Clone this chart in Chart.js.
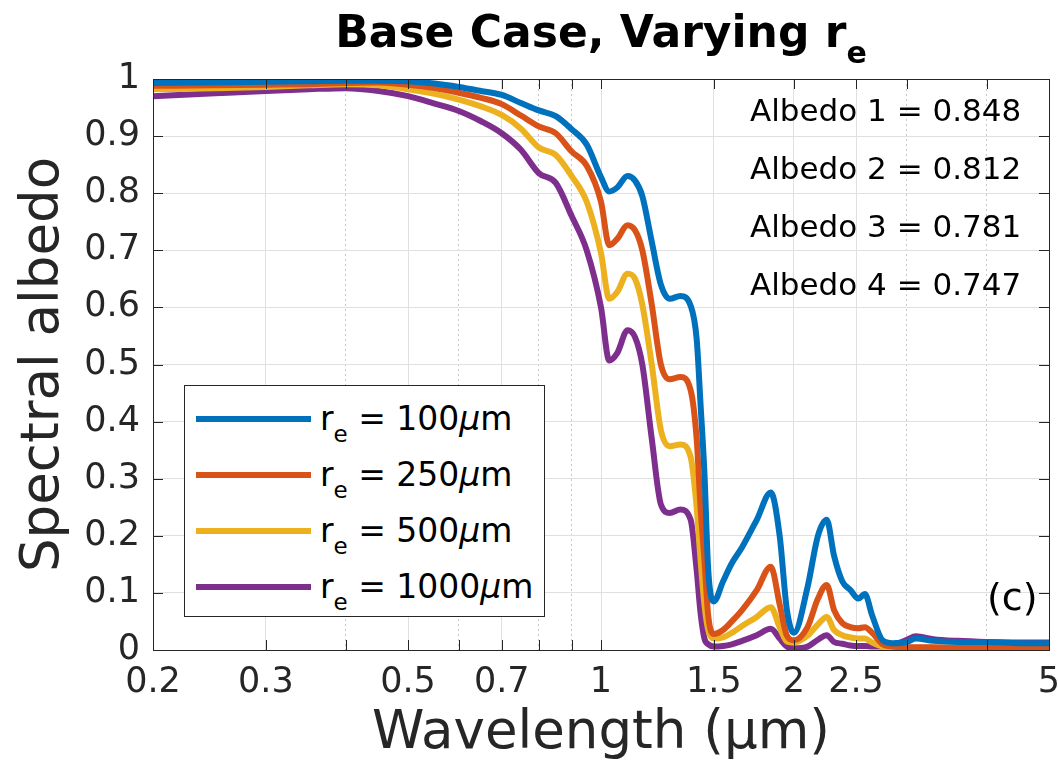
<!DOCTYPE html>
<html>
<head>
<meta charset="utf-8">
<script src="https://cdn.jsdelivr.net/npm/chart.js@4.4.1/dist/chart.umd.min.js"></script>
<style>
  html, body { margin: 0; padding: 0; background: #fff; }
  #wrap { position: relative; width: 1058px; height: 766px; font-family: 'DejaVu Sans', sans-serif; color: #262626; }
  #chart { position: absolute; left: 0; top: 0; }
  #title { position: absolute; left: 601px; top: 10px; transform: translateX(-50%); font-weight: bold; font-size: 44px; line-height: 1; color: #000; white-space: nowrap; }
  #title sub { font-size: 30px; position: relative; top: 16px; vertical-align: baseline; }
  #legend { position: absolute; left: 184px; top: 385px; width: 361px; height: 232px; background: #fff; border: 1px solid #262626; box-sizing: border-box; }
  .leg-row { position: absolute; left: 0; height: 40px; }
  .leg-line { position: absolute; left: 11px; width: 115px; height: 6px; top: 17px; }
  .leg-text { position: absolute; left: 135px; top: 0; font-size: 33px; line-height: 40px; white-space: nowrap; color: #000; }
  .leg-text sub { font-size: 23px; position: relative; top: 12px; vertical-align: baseline; }
  .albedo { position: absolute; left: 750px; font-size: 31px; line-height: 34px; white-space: nowrap; color: #000; }
  #panel { position: absolute; left: 987px; top: 577px; font-size: 38px; line-height: 40px; color: #000; }
</style>
</head>
<body>
<div id="wrap">
  <canvas id="chart" width="1058" height="766"></canvas>
  <div id="title">Base Case, Varying r<sub>e</sub></div>
  <div id="legend"></div>
  <div id="albedos"></div>
  <div id="panel">(c)</div>
</div>
<script>
'use strict';

// ─── Datos ───────────────────────────────────────────────────────────────────
const wavelength = [
  0.2, 0.25, 0.3, 0.35, 0.4, 0.45, 0.5, 0.55, 0.6, 0.65, 0.7, 0.75, 0.8, 0.85, 0.9, 0.95,
  1.0, 1.03, 1.06, 1.1, 1.13, 1.16, 1.2, 1.24, 1.28, 1.33, 1.38, 1.41, 1.43, 1.45, 1.47,
  1.5, 1.55, 1.6, 1.66, 1.75, 1.84, 1.9, 1.95, 2.0, 2.1, 2.18, 2.25, 2.31, 2.38, 2.45,
  2.52, 2.58, 2.65, 2.75, 2.85, 3.0, 3.1, 3.3, 3.6, 4.0, 4.5, 5.0,
];

const albedoR100 = [
  0.993, 0.994, 0.995, 0.996, 0.997, 0.997, 0.996, 0.992, 0.986, 0.979, 0.972, 0.958, 0.945, 0.935, 0.912, 0.885,
  0.828, 0.803, 0.81, 0.83, 0.822, 0.795, 0.715, 0.64, 0.615, 0.62, 0.603, 0.545, 0.43, 0.31, 0.14,
  0.085, 0.12, 0.152, 0.18, 0.228, 0.276, 0.2, 0.07, 0.03, 0.11, 0.2, 0.228, 0.165, 0.12, 0.105,
  0.09, 0.098, 0.06, 0.017, 0.012, 0.014, 0.02, 0.016, 0.014, 0.014, 0.012, 0.012,
];

const albedoR250 = [
  0.988, 0.989, 0.99, 0.991, 0.993, 0.994, 0.99, 0.984, 0.976, 0.967, 0.956, 0.936, 0.917, 0.905, 0.873, 0.848,
  0.785, 0.709, 0.72, 0.744, 0.735, 0.7, 0.605, 0.5, 0.474, 0.478, 0.455, 0.37, 0.25, 0.158, 0.06,
  0.028, 0.035, 0.05, 0.07, 0.105, 0.146, 0.08, 0.025, 0.017, 0.04, 0.09, 0.114, 0.07, 0.047, 0.04,
  0.038, 0.04, 0.03, 0.01, 0.006, 0.005, 0.005, 0.005, 0.004, 0.004, 0.004, 0.004,
];

const albedoR500 = [
  0.982, 0.984, 0.986, 0.989, 0.991, 0.989, 0.982, 0.974, 0.964, 0.952, 0.937, 0.913, 0.88, 0.867, 0.83, 0.785,
  0.695, 0.615, 0.627, 0.659, 0.65, 0.605, 0.5, 0.385, 0.357, 0.36, 0.338, 0.25, 0.158, 0.08, 0.035,
  0.02, 0.022, 0.03, 0.042, 0.058, 0.075, 0.04, 0.015, 0.013, 0.025, 0.045, 0.058, 0.035, 0.026, 0.022,
  0.02, 0.02, 0.013, 0.006, 0.004, 0.004, 0.004, 0.004, 0.004, 0.004, 0.004, 0.004,
];

const albedoR1000 = [
  0.97, 0.975, 0.979, 0.982, 0.984, 0.979, 0.97, 0.957, 0.944, 0.926, 0.905, 0.876, 0.835, 0.818, 0.76, 0.7,
  0.6, 0.507, 0.52, 0.56, 0.548, 0.5, 0.37, 0.255, 0.24, 0.246, 0.228, 0.14, 0.065, 0.02, 0.01,
  0.006, 0.007, 0.01, 0.016, 0.026, 0.037, 0.02, 0.006, 0.003, 0.006, 0.018, 0.026, 0.014, 0.011, 0.008,
  0.007, 0.007, 0.006, 0.006, 0.008, 0.018, 0.024, 0.019, 0.016, 0.014, 0.013, 0.013,
];

const radiusLabels = ['100', '250', '500', '1000'];
const seriesColors = ['#0072BD', '#D95319', '#EDB120', '#7E2F8E'];
const broadbandAlbedo = ['0.848', '0.812', '0.781', '0.747'];

const xTickValues = [0.2, 0.3, 0.4, 0.5, 0.6, 0.7, 0.8, 0.9, 1, 1.5, 2, 2.5, 3, 4, 5];
const xTickLabels = ['0.2', '0.3', '', '0.5', '', '0.7', '', '', '1', '1.5', '2', '2.5', '', '', '5'];
const xMinorTicks = [0.4, 0.6, 0.8, 0.9, 3, 4];

const TEXT = '#262626';
const FONT = "'DejaVu Sans', sans-serif";

// ─── Caja y ticks hacia dentro (estilo MATLAB) ────────────────────────────────
const boxPlugin = {
  id: 'boxTicks',
  afterDraw(chart) {
    const { ctx, chartArea: a, scales } = chart;
    const len = 10;
    ctx.save();
    ctx.strokeStyle = TEXT;
    ctx.lineWidth = 1;
    ctx.beginPath();
    scales.x.ticks.forEach(t => {
      const px = Math.round(scales.x.getPixelForValue(t.value)) + 0.5;
      ctx.moveTo(px, a.bottom); ctx.lineTo(px, a.bottom - len);
      ctx.moveTo(px, a.top); ctx.lineTo(px, a.top + len);
    });
    scales.y.ticks.forEach(t => {
      const py = Math.round(scales.y.getPixelForValue(t.value)) + 0.5;
      ctx.moveTo(a.left, py); ctx.lineTo(a.left + len, py);
      ctx.moveTo(a.right, py); ctx.lineTo(a.right - len, py);
    });
    ctx.stroke();
    ctx.strokeRect(Math.round(a.left) + 0.5, Math.round(a.top) + 0.5,
      Math.round(a.right - a.left), Math.round(a.bottom - a.top));
    ctx.restore();
  },
};

const datasets = [albedoR100, albedoR250, albedoR500, albedoR1000].map((serie, i) => ({
  label: `r_e = ${radiusLabels[i]}μm`,
  data: wavelength.map((w, j) => ({ x: w, y: serie[j] })),
  borderColor: seriesColors[i],
  borderWidth: 6,
  pointRadius: 0,
  cubicInterpolationMode: 'monotone',
  fill: false,
}));

new Chart(document.getElementById('chart'), {
  type: 'line',
  data: { datasets },
  options: {
    responsive: false,
    animation: false,
    layout: { padding: { top: 79, right: 9, left: 0, bottom: 0 } },
    plugins: { legend: { display: false }, tooltip: { enabled: false }, title: { display: false } },
    scales: {
      x: {
        type: 'logarithmic',
        min: 0.2,
        max: 5,
        afterBuildTicks: s => { s.ticks = xTickValues.map(v => ({ value: v })); },
        afterFit: s => { s.height = 116; s.paddingLeft = 0; s.paddingRight = 0; },
        ticks: {
          autoSkip: false,
          maxRotation: 0,
          padding: 12,
          color: TEXT,
          font: { family: FONT, size: 35 },
          callback: (v, i) => xTickLabels[i],
        },
        grid: {
          drawTicks: false,
          color: ctx => xMinorTicks.includes(ctx.tick && ctx.tick.value) ? '#c8c8c8' : '#e0e0e0',
        },
        border: {
          display: false,
          dash: ctx => xMinorTicks.includes(ctx.tick && ctx.tick.value) ? [2, 3] : [],
        },
        title: {
          display: true,
          text: 'Wavelength (μm)',
          color: TEXT,
          font: { family: FONT, size: 53 },
          padding: { top: 0, bottom: 0 },
        },
      },
      y: {
        min: 0,
        max: 1,
        afterFit: s => { s.width = 153; },
        ticks: {
          stepSize: 0.1,
          padding: 13,
          color: TEXT,
          font: { family: FONT, size: 35 },
          callback: v => String(+v.toFixed(1)),
        },
        grid: { drawTicks: false, color: '#e0e0e0' },
        border: { display: false },
        title: {
          display: true,
          text: 'Spectral albedo',
          color: TEXT,
          font: { family: FONT, size: 53 },
          padding: { top: 12, bottom: 0 },
        },
      },
    },
  },
  plugins: [boxPlugin],
});

// ─── Leyenda y anotaciones como texto HTML ────────────────────────────────────
const legendEl = document.getElementById('legend');
radiusLabels.forEach((r, i) => {
  const row = document.createElement('div');
  row.className = 'leg-row';
  row.style.top = (13 + i * 56) + 'px';
  row.innerHTML = `<div class="leg-line" style="background:${seriesColors[i]}"></div>` +
    `<div class="leg-text">r<sub>e</sub> = ${r}<i>μ</i>m</div>`;
  legendEl.appendChild(row);
});

const albEl = document.getElementById('albedos');
broadbandAlbedo.forEach((a, i) => {
  const d = document.createElement('div');
  d.className = 'albedo';
  d.style.top = (93 + i * 58) + 'px';
  d.textContent = `Albedo ${i + 1} = ${a}`;
  albEl.appendChild(d);
});
</script>
</body>
</html>
